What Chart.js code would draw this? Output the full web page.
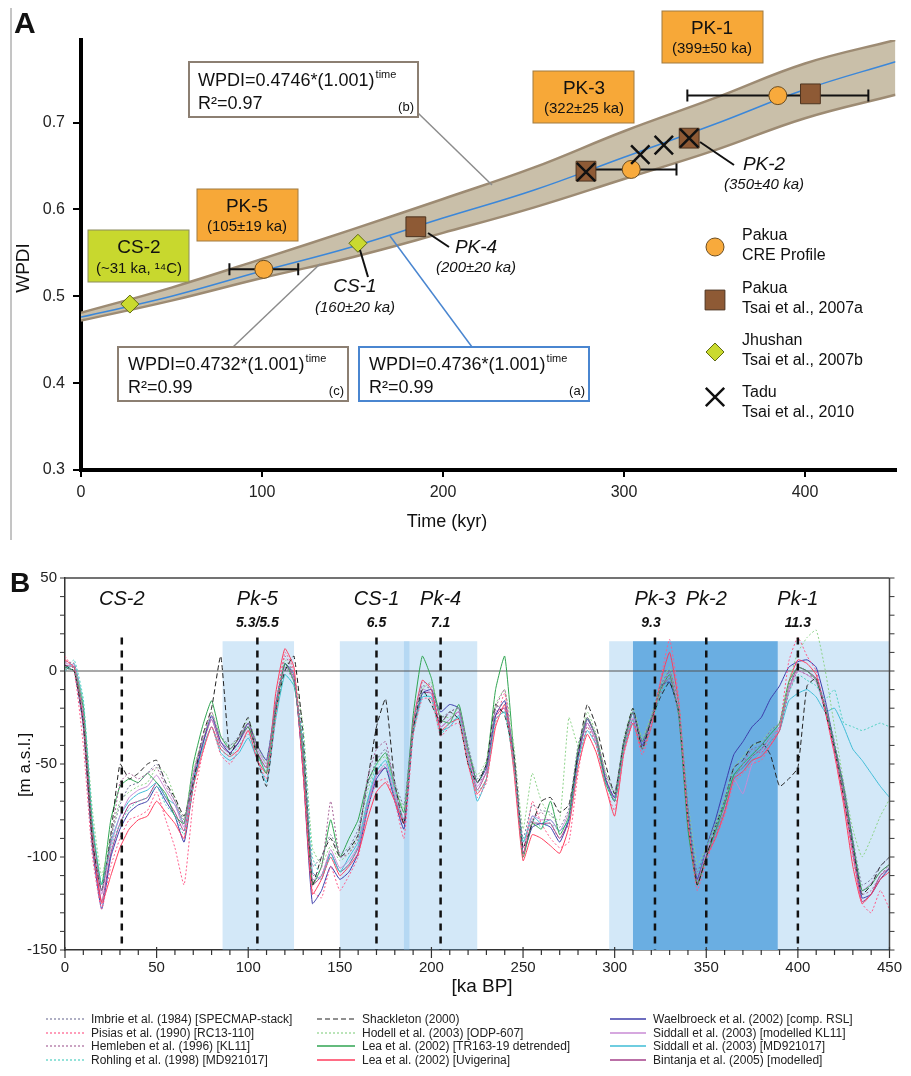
<!DOCTYPE html>
<html><head><meta charset="utf-8">
<script src="https://cdn.jsdelivr.net/npm/chart.js@4.4.1/dist/chart.umd.min.js"></script>
<style>
html,body{margin:0;padding:0;background:#fff;}
#wrap{position:relative;width:911px;height:1076px;overflow:hidden;}
#ca{position:absolute;left:0;top:0;}
#cb{position:absolute;left:0;top:540px;}
</style></head><body>
<div id="wrap">
<canvas id="ca" width="911" height="540"></canvas>
<canvas id="cb" width="911" height="536"></canvas>
</div>
<script>
// ---------- Panel A data ----------
const xTicksA = [0, 100, 200, 300, 400];
const yTicksA = [0.3, 0.4, 0.5, 0.6, 0.7];
const trendX = [0, 50, 100, 150, 200, 250, 300, 350, 400, 450];
const fitA = [0.476, 0.500, 0.529, 0.557, 0.590, 0.622, 0.660, 0.698, 0.738, 0.770];
const fitB = [0.481, 0.510, 0.543, 0.577, 0.612, 0.648, 0.690, 0.728, 0.768, 0.795];
const fitC = [0.472, 0.495, 0.521, 0.545, 0.573, 0.602, 0.635, 0.668, 0.705, 0.732];
const creX = [101, 304, 385];
const creY = [0.531, 0.646, 0.731];
const creErr = [19, 25, 50];
const tsaiAX = [185, 279, 336, 403];
const tsaiAY = [0.580, 0.644, 0.682, 0.733];
const jhuX = [27, 153];
const jhuY = [0.491, 0.561];
const taduX = [279, 309, 322, 336];
const taduY = [0.643, 0.663, 0.674, 0.682];

// ---------- Panel B data ----------
const xTicksB = [0, 50, 100, 150, 200, 250, 300, 350, 400, 450];
const yTicksB = [-150, -100, -50, 0, 50];
const kaSteps = [];
for (let k = 0; k <= 450; k += 5) kaSteps.push(k);
const eventKa = [31, 105, 170, 205, 322, 350, 400];
const eventName = ['CS-2', 'Pk-5', 'CS-1', 'Pk-4', 'Pk-3', 'Pk-2', 'Pk-1'];
const eventMis = ['', '5.3/5.5', '6.5', '7.1', '9.3', '', '11.3'];
const shadeLight = [[86, 125], [150, 188], [185, 225], [297, 450]];
const shadeDark = [[310, 389]];

const imbrie = [
 0, 2, -30, -95, -118, -90, -72, -62, -60, -55,
 -50, -60, -70, -80, -55, -38, -25, -35, -40, -35,
 -28, -40, -48, -18, 2, -6, -48, -105, -100, -88,
 -98, -95, -85, -62, -48, -42, -60, -72, -28, -8,
 -10, -25, -22, -20, -40, -58, -50, -20, -18, -45,
 -90, -72, -75, -76, -84, -74, -40, -25, -35, -55,
 -65, -38, -22, -38, -25, -8, 0, -18, -72, -108,
 -95, -82, -70, -52, -48, -42, -40, -32, -28, -8,
 2, 0, -4, -18, -38, -62, -90, -115, -112, -105,
 -100];
const pisias = [
 8, 0, -40, -100, -128, -105, -90, -80, -78, -75,
 -65, -80, -95, -115, -70, -45, -30, -45, -50, -42,
 -32, -48, -58, -25, 10, 0, -55, -118, -122, -105,
 -118, -110, -100, -75, -60, -58, -70, -90, -35, -15,
 -15, -35, -30, -28, -50, -68, -60, -28, -12, -52,
 -100, -70, -82, -90, -95, -92, -55, -30, -40, -62,
 -75, -45, -28, -45, -30, -5, 17, -15, -80, -118,
 -102, -90, -78, -60, -55, -50, -48, -40, -30, 5,
 18, 8, 0, -22, -45, -70, -100, -125, -130, -118,
 -128];
const hemleben = [
 5, 4, -22, -85, -118, -92, -60, -55, -58, -55,
 -52, -62, -70, -82, -56, -36, -22, -38, -42, -36,
 -28, -44, -52, -18, 8, -2, -40, -110, -106, -70,
 -100, -98, -90, -58, -42, -38, -62, -80, -28, -6,
 -8, -28, -22, -20, -44, -60, -55, -20, -10, -50,
 -98, -80, -76, -82, -90, -82, -48, -25, -36, -56,
 -70, -42, -22, -38, -25, -12, 0, -25, -82, -110,
 -100, -88, -75, -58, -50, -42, -44, -38, -32, -12,
 0, -2, -4, -20, -42, -66, -96, -120, -118, -110,
 -104];
const rohling = [
 0, 6, -15, -80, -115, -95, -82, -74, -70, -68,
 -62, -72, -78, -88, -62, -42, -30, -42, -46, -40,
 -34, -46, -54, -24, -2, -8, -35, -100, -110, -100,
 -108, -104, -94, -72, -50, -52, -68, -80, -34, -12,
 -15, -34, -28, -25, -48, -65, -58, -26, -22, -52,
 -92, -80, -84, -82, -86, -80, -50, -30, -40, -60,
 -70, -42, -26, -42, -30, -12, -4, -22, -76, -110,
 -95, -84, -70, -54, -50, -46, -42, -36, -30, -12,
 -2, -5, -8, -15, -10, -28, -30, -32, -30, -28,
 -30];
const shackleton = [
 3, 0, -28, -92, -118, -88, -50, -58, -55, -50,
 -48, -60, -68, -78, -60, -35, -20, 8, -45, -35,
 -25, -48, -62, -22, 0, 8, -35, -115, -100, -90,
 -100, -96, -88, -60, -30, -15, -60, -82, -32, -10,
 -18, -28, -22, -26, -50, -60, -50, -18, -24, -45,
 -95, -82, -70, -68, -76, -72, -45, -18, -30, -50,
 -66, -38, -20, -42, -26, -14, -6, -22, -80, -115,
 -100, -84, -70, -52, -48, -40, -38, -45, -62, -58,
 -52, -8, -4, -22, -42, -68, -95, -120, -115, -105,
 -100];
const hodell = [
 0, 2, -18, -75, -110, -88, -70, -65, -62, -60,
 -52, -55, -68, -80, -52, -38, -22, -36, -40, -36,
 -26, -40, -50, -18, 6, -2, -30, -95, -104, -94,
 -102, -98, -88, -65, -50, -46, -62, -74, -32, -10,
 -6, -24, -25, -20, -42, -56, -48, -18, -10, -40,
 -85, -55, -70, -78, -80, -25, -40, -22, -34, -54,
 -66, -36, -20, -36, -24, -8, 2, -18, -70, -104,
 -95, -82, -68, -52, -46, -40, -38, -32, -28, -6,
 10, 18, 22, 0, -30, -60, -85, -100, -90, -78,
 -69];
const leaTR = [
 2, 0, -20, -85, -115, -80, -62, -58, -60, -55,
 -60, -66, -78, -82, -50, -30, -16, -35, -42, -36,
 -30, -44, -55, -22, 4, -6, -45, -115, -105, -80,
 -100, -90, -80, -60, -50, -44, -62, -76, -24, 8,
 -4, -26, -28, -18, -42, -60, -50, -10, 8, -45,
 -100, -82, -85, -70, -88, -78, -42, -25, -36, -60,
 -70, -40, -22, -38, -26, -10, -2, -24, -85, -115,
 -100, -86, -72, -56, -50, -45, -40, -34, -28, -6,
 2, 0, -5, -20, -40, -64, -92, -118, -115, -108,
 -104];
const leaUvi = [
 6, 2, -28, -92, -125, -110, -95, -85, -80, -78,
 -70, -76, -82, -90, -62, -44, -30, -42, -46, -42,
 -32, -48, -55, -12, 12, 2, -55, -120, -112, -100,
 -110, -105, -98, -80, -65, -60, -70, -82, -28, -5,
 -10, -32, -28, -26, -50, -66, -58, -30, -18, -54,
 -102, -88, -90, -94, -98, -84, -52, -34, -44, -62,
 -78, -44, -28, -42, -30, -6, 10, -18, -82, -115,
 -100, -90, -76, -58, -54, -48, -46, -40, -32, -6,
 6, 4, -2, -22, -45, -72, -105, -125, -120, -112,
 -108];
const waelbroeck = [
 2, 0, -30, -95, -128, -100, -85, -76, -72, -70,
 -62, -70, -78, -92, -62, -40, -24, -38, -44, -38,
 -28, -40, -48, -18, 4, -2, -55, -125, -118, -105,
 -112, -108, -98, -75, -58, -52, -70, -85, -32, -12,
 -10, -22, -18, -20, -42, -60, -52, -24, -16, -46,
 -98, -84, -82, -84, -92, -80, -46, -26, -36, -58,
 -68, -38, -22, -40, -26, -8, -6, -22, -75, -112,
 -95, -80, -62, -45, -38, -30, -25, -15, -8, 2,
 5, 6, 2, -16, -40, -62, -92, -122, -120, -112,
 -106];
const siddallKL = [
 4, 3, -24, -88, -120, -94, -78, -68, -64, -62,
 -56, -64, -72, -84, -56, -38, -26, -38, -42, -36,
 -28, -42, -50, -20, 2, -4, -50, -112, -110, -96,
 -106, -102, -94, -72, -56, -50, -66, -80, -30, -10,
 -12, -30, -26, -22, -46, -62, -54, -22, -20, -48,
 -95, -78, -80, -80, -86, -76, -44, -28, -38, -58,
 -68, -40, -25, -40, -28, -10, -2, -20, -78, -112,
 -98, -85, -74, -58, -66, -50, -44, -36, -30, -10,
 0, -2, -6, -22, -42, -66, -96, -118, -114, -108,
 -104];
const siddallMD = [
 0, 4, -18, -82, -115, -92, -78, -70, -66, -64,
 -60, -68, -72, -82, -58, -42, -30, -44, -48, -44,
 -36, -48, -60, -26, -2, -8, -40, -108, -112, -98,
 -108, -100, -92, -70, -54, -48, -64, -82, -34, -14,
 -14, -32, -30, -24, -46, -70, -58, -26, -22, -50,
 -92, -78, -82, -80, -86, -80, -48, -32, -40, -60,
 -70, -42, -28, -42, -30, -12, -6, -22, -80, -115,
 -100, -88, -74, -56, -52, -48, -44, -38, -32, -16,
 -12, -10, -14, -22, -20, -30, -42, -48, -55, -62,
 -68];
const bintanja = [
 3, 2, -26, -90, -124, -98, -82, -72, -70, -68,
 -60, -68, -76, -86, -58, -40, -26, -40, -44, -38,
 -30, -44, -52, -20, 4, -4, -52, -115, -110, -98,
 -108, -104, -95, -72, -56, -52, -68, -82, -32, -12,
 -12, -30, -26, -22, -46, -64, -54, -24, -20, -50,
 -98, -82, -82, -82, -90, -80, -46, -28, -38, -58,
 -70, -42, -26, -42, -28, -10, -4, -22, -80, -114,
 -100, -86, -74, -56, -52, -46, -42, -36, -30, -10,
 2, 0, -4, -20, -42, -68, -98, -124, -120, -110,
 -106];

const seriesB = [
 {label: 'Imbrie et al. (1984) [SPECMAP-stack]', values: imbrie, color: '#7b7b9e', dash: [2, 2], col: 0, row: 0},
 {label: 'Pisias et al. (1990) [RC13-110]', values: pisias, color: '#ff5c8a', dash: [2, 2], col: 0, row: 1},
 {label: 'Hemleben et al. (1996) [KL11]', values: hemleben, color: '#a9679a', dash: [2, 2], col: 0, row: 2},
 {label: 'Rohling et al. (1998) [MD921017]', values: rohling, color: '#4fd0c0', dash: [2, 2], col: 0, row: 3},
 {label: 'Shackleton (2000)', values: shackleton, color: '#222222', dash: [5, 3], col: 1, row: 0},
 {label: 'Hodell et al. (2003) [ODP-607]', values: hodell, color: '#8ed38a', dash: [2, 2], col: 1, row: 1},
 {label: 'Lea et al. (2002) [TR163-19 detrended]', values: leaTR, color: '#30a552', dash: [], col: 1, row: 2},
 {label: 'Lea et al. (2002) [Uvigerina]', values: leaUvi, color: '#ff3c5c', dash: [], col: 1, row: 3},
 {label: 'Waelbroeck et al. (2002) [comp. RSL]', values: waelbroeck, color: '#3c3caa', dash: [], col: 2, row: 0},
 {label: 'Siddall et al. (2003) [modelled KL11]', values: siddallKL, color: '#c98bd5', dash: [], col: 2, row: 1},
 {label: 'Siddall et al. (2003) [MD921017]', values: siddallMD, color: '#3fbcd6', dash: [], col: 2, row: 2},
 {label: 'Bintanja et al. (2005) [modelled]', values: bintanja, color: '#a5408a', dash: [], col: 2, row: 3}
];

const F = '"Liberation Sans", Arial, sans-serif';
const FN = '"Liberation Sans Narrow", "Liberation Sans", Arial, sans-serif';

function pts(xs, ys) { return xs.map((x, i) => ({x: x, y: ys[i]})); }
function txt(ctx, s, x, y, font, color, align) {
  ctx.font = font; ctx.fillStyle = color || '#111'; ctx.textAlign = align || 'left'; ctx.textBaseline = 'alphabetic';
  ctx.fillText(s, x, y);
}
function line(ctx, x1, y1, x2, y2, color, w) {
  ctx.beginPath(); ctx.moveTo(x1, y1); ctx.lineTo(x2, y2); ctx.strokeStyle = color; ctx.lineWidth = w; ctx.stroke();
}
function boxR(ctx, x1, y1, x2, y2, fill, stroke, w) {
  ctx.fillStyle = fill; ctx.fillRect(x1, y1, x2 - x1, y2 - y1);
  ctx.strokeStyle = stroke; ctx.lineWidth = w; ctx.strokeRect(x1, y1, x2 - x1, y2 - y1);
}
function eq(ctx, x, y, main, sup) {
  txt(ctx, main, x, y, '18px ' + F, '#111');
  const w = ctx.measureText(main).width;
  txt(ctx, sup, x + w + 1, y - 8, '11px ' + F, '#111');
}

const styleSquare = {pointStyle: 'rect', radius: 14, bg: '#8e5a35', bd: '#4d3420', bw: 1};
const styleCircle = {pointStyle: 'circle', radius: 9, bg: '#f8aa3c', bd: '#6b4d22', bw: 1};
const styleDiamond = {pointStyle: 'rectRot', radius: 9, bg: '#cada2f', bd: '#5f6a12', bw: 1};
const styleCross = {pointStyle: 'crossRot', radius: 13, bg: '#111', bd: '#111', bw: 2.5};

function sym(ctx, st, x, y) {
  ctx.save();
  ctx.fillStyle = st.bg; ctx.strokeStyle = st.bd; ctx.lineWidth = st.bw;
  Chart.helpers.drawPoint(ctx, {pointStyle: st.pointStyle, radius: st.radius, rotation: 0, borderWidth: st.bw}, x, y);
  ctx.restore();
}

const pluginA = {
  id: 'annA',
  beforeDatasetDraw(chart, args) {
    if (chart.data.datasets[args.index].label !== 'Pakua Tsai et al., 2007a') return;
    const ctx = chart.ctx, x = chart.scales.x, y = chart.scales.y;
    ctx.save(); ctx.strokeStyle = '#111'; ctx.lineWidth = 2;
    creX.forEach((cx, i) => {
      const x1 = x.getPixelForValue(cx - creErr[i]), x2 = x.getPixelForValue(cx + creErr[i]), py = y.getPixelForValue(creY[i]);
      ctx.beginPath(); ctx.moveTo(x1, py); ctx.lineTo(x2, py);
      ctx.moveTo(x1, py - 6); ctx.lineTo(x1, py + 6); ctx.moveTo(x2, py - 6); ctx.lineTo(x2, py + 6); ctx.stroke();
    });
    ctx.restore();
  },
  afterDraw(chart) {
    const ctx = chart.ctx;
    ctx.save();
    line(ctx, 11, 8, 11, 540, '#8a8a8a', 1);
    txt(ctx, 'A', 14, 33, 'bold 30px ' + F, '#111');
    ctx.save(); ctx.translate(29, 268); ctx.rotate(-Math.PI / 2);
    txt(ctx, 'WPDI', 0, 0, '19px ' + F, '#111', 'center'); ctx.restore();
    txt(ctx, 'Time (kyr)', 447, 527, '18px ' + F, '#111', 'center');
    line(ctx, 418, 113, 492, 185, '#8c8c8c', 1.5);
    line(ctx, 233, 347, 320, 264, '#8c8c8c', 1.5);
    line(ctx, 472, 347, 390, 236, '#4a86d0', 1.5);
    line(ctx, 360, 250, 368, 277, '#111', 2);
    line(ctx, 428, 233, 449, 247, '#111', 2);
    line(ctx, 700, 142, 734, 165, '#111', 2);
    boxR(ctx, 189, 62, 418, 117, '#fff', '#8c7f72', 2);
    eq(ctx, 198, 86, 'WPDI=0.4746*(1.001)', 'time');
    txt(ctx, 'R²=0.97', 198, 109, '18px ' + F, '#111');
    txt(ctx, '(b)', 414, 111, '13px ' + F, '#111', 'right');
    boxR(ctx, 118, 347, 348, 401, '#fff', '#8c7f72', 2);
    eq(ctx, 128, 370, 'WPDI=0.4732*(1.001)', 'time');
    txt(ctx, 'R²=0.99', 128, 393, '18px ' + F, '#111');
    txt(ctx, '(c)', 344, 395, '13px ' + F, '#111', 'right');
    boxR(ctx, 359, 347, 589, 401, '#fff', '#4a86d0', 2);
    eq(ctx, 369, 370, 'WPDI=0.4736*(1.001)', 'time');
    txt(ctx, 'R²=0.99', 369, 393, '18px ' + F, '#111');
    txt(ctx, '(a)', 585, 395, '13px ' + F, '#111', 'right');
    boxR(ctx, 88, 230, 189, 282, '#c8d82e', '#8c8c5c', 1);
    txt(ctx, 'CS-2', 139, 253, '19px ' + F, '#111', 'center');
    txt(ctx, '(~31 ka, ¹⁴C)', 139, 273, '15px ' + F, '#111', 'center');
    boxR(ctx, 197, 189, 298, 241, '#f7a838', '#a07a40', 1);
    txt(ctx, 'PK-5', 247, 212, '19px ' + F, '#111', 'center');
    txt(ctx, '(105±19 ka)', 247, 231, '15px ' + F, '#111', 'center');
    boxR(ctx, 533, 71, 634, 123, '#f7a838', '#a07a40', 1);
    txt(ctx, 'PK-3', 584, 94, '19px ' + F, '#111', 'center');
    txt(ctx, '(322±25 ka)', 584, 113, '15px ' + F, '#111', 'center');
    boxR(ctx, 662, 11, 763, 63, '#f7a838', '#a07a40', 1);
    txt(ctx, 'PK-1', 712, 34, '19px ' + F, '#111', 'center');
    txt(ctx, '(399±50 ka)', 712, 53, '15px ' + F, '#111', 'center');
    txt(ctx, 'CS-1', 355, 292, 'italic 19px ' + F, '#111', 'center');
    txt(ctx, '(160±20 ka)', 355, 312, 'italic 15px ' + F, '#111', 'center');
    txt(ctx, 'PK-4', 476, 253, 'italic 19px ' + F, '#111', 'center');
    txt(ctx, '(200±20 ka)', 476, 272, 'italic 15px ' + F, '#111', 'center');
    txt(ctx, 'PK-2', 764, 170, 'italic 19px ' + F, '#111', 'center');
    txt(ctx, '(350±40 ka)', 764, 189, 'italic 15px ' + F, '#111', 'center');
    sym(ctx, styleCircle, 715, 247);
    txt(ctx, 'Pakua', 742, 240, '16px ' + F, '#111');
    txt(ctx, 'CRE Profile', 742, 260, '16px ' + F, '#111');
    sym(ctx, styleSquare, 715, 300);
    txt(ctx, 'Pakua', 742, 293, '16px ' + F, '#111');
    txt(ctx, 'Tsai et al., 2007a', 742, 313, '16px ' + F, '#111');
    sym(ctx, styleDiamond, 715, 352);
    txt(ctx, 'Jhushan', 742, 345, '16px ' + F, '#111');
    txt(ctx, 'Tsai et al., 2007b', 742, 365, '16px ' + F, '#111');
    sym(ctx, styleCross, 715, 397);
    txt(ctx, 'Tadu', 742, 397, '16px ' + F, '#111');
    txt(ctx, 'Tsai et al., 2010', 742, 417, '16px ' + F, '#111');
    ctx.restore();
  }
};

function scatterDs(label, xs, ys, st, order) {
  return {type: 'scatter', label: label, data: pts(xs, ys), pointStyle: st.pointStyle, pointRadius: st.radius,
    backgroundColor: st.bg, borderColor: st.bd, borderWidth: st.bw, order: order, showLine: false};
}

new Chart(document.getElementById('ca'), {
  type: 'line',
  data: {datasets: [
    {label: 'fit (b)', data: pts(trendX, fitB), borderColor: '#9d8b73', borderWidth: 2.5, backgroundColor: '#c9bfa9', fill: '+1', pointRadius: 0, tension: 0.4, order: 9},
    {label: 'fit (c)', data: pts(trendX, fitC), borderColor: '#9d8b73', borderWidth: 2.5, fill: false, pointRadius: 0, tension: 0.4, order: 8},
    {label: 'fit (a)', data: pts(trendX, fitA), borderColor: '#3b87d9', borderWidth: 1.5, fill: false, pointRadius: 0, tension: 0.4, order: 7},
    scatterDs('Pakua Tsai et al., 2007a', tsaiAX, tsaiAY, styleSquare, 4),
    scatterDs('Pakua CRE Profile', creX, creY, styleCircle, 3),
    scatterDs('Jhushan Tsai et al., 2007b', jhuX, jhuY, styleDiamond, 2),
    scatterDs('Tadu Tsai et al., 2010', taduX, taduY, styleCross, 1)
  ]},
  options: {
    responsive: false, animation: false, devicePixelRatio: 1,
    layout: {padding: {top: 40, right: 11, left: 0, bottom: 0}},
    plugins: {legend: {display: false}, tooltip: {enabled: false}},
    scales: {
      x: {type: 'linear', min: 0, max: 450,
        afterBuildTicks: s => { s.ticks = xTicksA.map(v => ({value: v})); },
        afterFit: s => { s.height = 70; },
        grid: {drawOnChartArea: false, drawTicks: true, tickLength: 7, color: '#000', lineWidth: 2},
        border: {display: true, color: '#000', width: 4},
        ticks: {font: {size: 16, family: F}, color: '#222', padding: 6, maxRotation: 0, autoSkip: false}},
      y: {type: 'linear', min: 0.3, max: 0.795,
        afterBuildTicks: s => { s.ticks = yTicksA.map(v => ({value: v})); },
        afterFit: s => { s.width = 81; },
        grid: {drawOnChartArea: false, drawTicks: true, tickLength: 8, color: '#000', lineWidth: 2},
        border: {display: true, color: '#000', width: 4},
        ticks: {font: {size: 16, family: F}, color: '#222', padding: 8, callback: v => v.toFixed(1)}}
    }
  },
  plugins: [pluginA]
});

// ---------- Panel B ----------
const pluginB = {
  id: 'annB',
  beforeDatasetsDraw(chart) {
    const ctx = chart.ctx, a = chart.chartArea, x = chart.scales.x, y = chart.scales.y;
    ctx.save();
    ctx.beginPath(); ctx.rect(a.left, a.top, a.right - a.left, a.bottom - a.top); ctx.clip();
    const top = y.getPixelForValue(16), bot = y.getPixelForValue(-150);
    ctx.fillStyle = 'rgba(120,185,235,0.33)';
    shadeLight.forEach(r => { const x1 = x.getPixelForValue(r[0]), x2 = x.getPixelForValue(r[1]); ctx.fillRect(x1, top, x2 - x1, bot - top); });
    ctx.fillStyle = '#6aaee2';
    shadeDark.forEach(r => { const x1 = x.getPixelForValue(r[0]), x2 = x.getPixelForValue(r[1]); ctx.fillRect(x1, top, x2 - x1, bot - top); });
    const y0 = y.getPixelForValue(0);
    line(ctx, a.left, y0, a.right, y0, '#555', 1.2);
    ctx.restore();
  },
  afterDatasetsDraw(chart) {
    const ctx = chart.ctx, x = chart.scales.x, y = chart.scales.y;
    ctx.save(); ctx.setLineDash([7, 6]);
    eventKa.forEach(k => { const px = x.getPixelForValue(k); line(ctx, px, y.getPixelForValue(18), px, y.getPixelForValue(-150), '#111', 2.5); });
    ctx.setLineDash([]); ctx.restore();
  },
  afterDraw(chart) {
    const ctx = chart.ctx, a = chart.chartArea, x = chart.scales.x, y = chart.scales.y;
    ctx.save();
    line(ctx, a.left, a.top, a.right, a.top, '#444', 1.5);
    line(ctx, a.right, a.top, a.right, a.bottom, '#444', 1.5);
    for (let v = 0; v <= 450; v += 10) {
      const px = x.getPixelForValue(v), major = v % 50 === 0;
      line(ctx, px, a.bottom - (major ? 3 : 0), px, a.bottom + (major ? 8 : 5), '#333', 1.2);
    }
    for (let v = -150; v <= 50; v += 10) {
      const py = y.getPixelForValue(v);
      line(ctx, a.left - 5, py, a.left, py, '#333', 1);
      line(ctx, a.right, py, a.right + 5, py, '#333', 1);
    }
    txt(ctx, 'B', 10, 52, 'bold 28px ' + F, '#111');
    ctx.save(); ctx.translate(30, 225); ctx.rotate(-Math.PI / 2);
    txt(ctx, '[m a.s.l.]', 0, 0, '17px ' + F, '#111', 'center'); ctx.restore();
    txt(ctx, '[ka BP]', 482, 452, '19px ' + FN, '#111', 'center');
    eventKa.forEach((k, i) => {
      const px = x.getPixelForValue(k);
      txt(ctx, eventName[i], px, 65, 'italic 20px ' + F, '#111', 'center');
      if (eventMis[i]) txt(ctx, eventMis[i], px - (k === 322 ? 4 : 0), 87, 'bold italic 14px ' + F, '#111', 'center');
    });
    const colLine = [[46, 84], [317, 355], [610, 646]];
    const rowY = [483, 497, 510, 524];
    seriesB.forEach(s => {
      const c = colLine[s.col], ry = rowY[s.row];
      ctx.save(); ctx.setLineDash(s.dash);
      line(ctx, c[0], ry - 4, c[1], ry - 4, s.color, s.dash.length ? 1.2 : 1.6);
      ctx.restore();
      txt(ctx, s.label, c[1] + 7, ry, '12px ' + FN, '#222');
    });
    ctx.restore();
  }
};

new Chart(document.getElementById('cb'), {
  type: 'line',
  data: {datasets: seriesB.map(s => ({
    label: s.label, data: pts(kaSteps, s.values), borderColor: s.color, borderDash: s.dash,
    borderWidth: 1, pointRadius: 0, tension: 0.15, fill: false
  }))},
  options: {
    responsive: false, animation: false, devicePixelRatio: 1,
    layout: {padding: {top: 38, right: 11, left: 0, bottom: 0}},
    plugins: {legend: {display: false}, tooltip: {enabled: false}},
    scales: {
      x: {type: 'linear', min: 0, max: 450,
        afterBuildTicks: s => { s.ticks = xTicksB.map(v => ({value: v})); },
        afterFit: s => { s.height = 126; },
        grid: {drawOnChartArea: false, drawTicks: false},
        border: {display: true, color: '#333', width: 1.5},
        ticks: {font: {size: 15, family: FN}, color: '#222', padding: 9, maxRotation: 0, autoSkip: false}},
      y: {type: 'linear', min: -150, max: 50,
        afterBuildTicks: s => { s.ticks = yTicksB.map(v => ({value: v})); },
        afterFit: s => { s.width = 65; },
        grid: {drawOnChartArea: false, drawTicks: false},
        border: {display: true, color: '#333', width: 1.5},
        ticks: {font: {size: 15, family: F}, color: '#222', padding: 8}}
    }
  },
  plugins: [pluginB]
});
</script>
</body></html>
